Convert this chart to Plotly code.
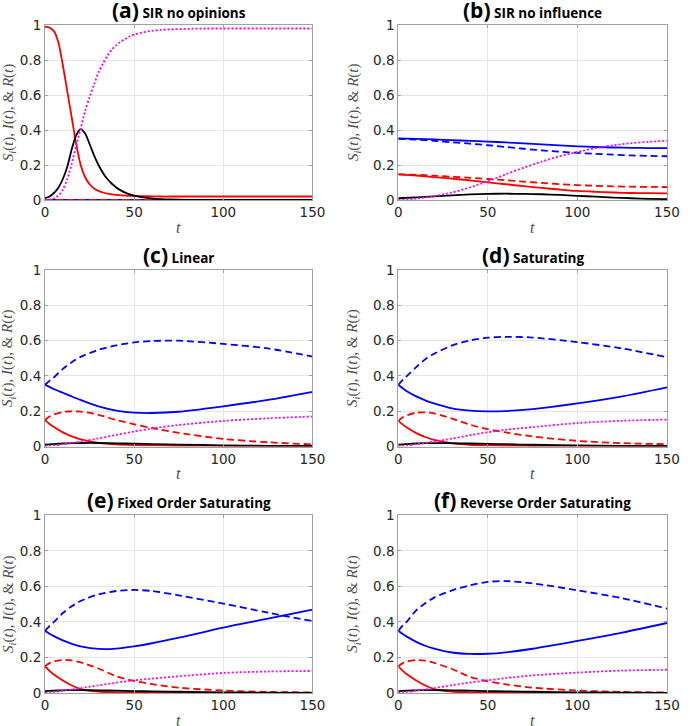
import plotly.graph_objects as go
from plotly.subplots import make_subplots

# ---- data ---------------------------------------------------------------
# (a) SIR no opinions
T_A = [0, 2.5, 5, 7.5, 10, 12.5, 15, 17.5, 20, 22.5, 25, 27.5, 30, 32.5, 35, 37.5,
       40, 42.5, 45, 47.5, 50, 55, 60, 65, 70, 80, 90, 100, 125, 150]
a_red = [0.99, 0.985, 0.965, 0.90, 0.77, 0.62, 0.47, 0.32, 0.20, 0.13, 0.09, 0.066,
         0.052, 0.043, 0.036, 0.032, 0.029, 0.027, 0.025, 0.024, 0.023, 0.022, 0.021,
         0.02, 0.02, 0.02, 0.02, 0.02, 0.02, 0.02]
a_black = [0.01, 0.02, 0.04, 0.07, 0.12, 0.19, 0.29, 0.37, 0.405, 0.38, 0.32, 0.255,
           0.20, 0.155, 0.12, 0.093, 0.072, 0.055, 0.042, 0.032, 0.025, 0.015, 0.009,
           0.005, 0.003, 0.001, 0, 0, 0, 0]
a_magenta = [0, 0.003, 0.01, 0.025, 0.06, 0.12, 0.21, 0.31, 0.41, 0.51, 0.59, 0.66,
             0.73, 0.78, 0.825, 0.86, 0.885, 0.905, 0.92, 0.935, 0.945, 0.958, 0.967,
             0.972, 0.975, 0.978, 0.98, 0.98, 0.98, 0.98]
T_FLAT = [0, 150]
a_blue = [0, 0]
a_blue_dash = [0, 0]
a_red_dash = [0, 0]

# (b) SIR no influence
T_B = [0, 10, 20, 30, 40, 50, 60, 70, 80, 90, 100, 110, 120, 130, 140, 150]
b_blue = [0.352, 0.349, 0.346, 0.342, 0.338, 0.334, 0.329, 0.324, 0.318, 0.312,
          0.307, 0.303, 0.300, 0.298, 0.297, 0.296]
b_blue_dash = [0.350, 0.345, 0.338, 0.330, 0.322, 0.313, 0.303, 0.293, 0.284, 0.276,
               0.269, 0.264, 0.259, 0.255, 0.252, 0.250]
b_red = [0.147, 0.140, 0.131, 0.122, 0.112, 0.101, 0.090, 0.079, 0.069, 0.060,
         0.052, 0.047, 0.043, 0.040, 0.039, 0.038]
b_red_dash = [0.147, 0.144, 0.139, 0.133, 0.127, 0.120, 0.113, 0.105, 0.098, 0.091,
              0.085, 0.081, 0.078, 0.076, 0.075, 0.074]
b_black = [0.010, 0.015, 0.021, 0.027, 0.032, 0.035, 0.036, 0.035, 0.033, 0.029,
           0.024, 0.019, 0.014, 0.010, 0.007, 0.005]
b_magenta = [0.000, 0.008, 0.022, 0.043, 0.072, 0.108, 0.147, 0.185, 0.219, 0.250,
             0.275, 0.296, 0.313, 0.325, 0.333, 0.339]

# (c)-(f) share one time grid
T_CF = [0, 2.5, 5, 10, 15, 20, 30, 40, 50, 60, 75, 100, 125, 150]

c_blue = [0.350, 0.338, 0.326, 0.305, 0.284, 0.264, 0.228, 0.204, 0.192, 0.190, 0.197, 0.228, 0.264, 0.310]
c_blue_dash = [0.350, 0.372, 0.392, 0.440, 0.478, 0.508, 0.548, 0.574, 0.590, 0.598, 0.600, 0.582, 0.556, 0.510]
c_red = [0.150, 0.128, 0.110, 0.080, 0.057, 0.040, 0.021, 0.012, 0.008, 0.006, 0.004, 0.003, 0.002, 0.002]
c_red_dash = [0.150, 0.170, 0.182, 0.196, 0.200, 0.198, 0.180, 0.150, 0.126, 0.105, 0.077, 0.043, 0.024, 0.012]
c_black = [0.010, 0.012, 0.014, 0.017, 0.019, 0.020, 0.020, 0.018, 0.016, 0.014, 0.011, 0.007, 0.004, 0.003]
c_magenta = [0.000, 0.003, 0.006, 0.013, 0.020, 0.028, 0.046, 0.066, 0.085, 0.102, 0.122, 0.145, 0.160, 0.170]

d_blue = [0.350, 0.330, 0.312, 0.284, 0.262, 0.244, 0.216, 0.203, 0.199, 0.201, 0.212, 0.244, 0.284, 0.335]
d_blue_dash = [0.350, 0.378, 0.402, 0.450, 0.494, 0.526, 0.573, 0.601, 0.617, 0.622, 0.618, 0.592, 0.556, 0.506]
d_red = [0.145, 0.124, 0.106, 0.076, 0.054, 0.037, 0.018, 0.010, 0.006, 0.004, 0.003, 0.002, 0.002, 0.002]
d_red_dash = [0.145, 0.166, 0.178, 0.192, 0.193, 0.188, 0.158, 0.124, 0.098, 0.080, 0.057, 0.032, 0.019, 0.013]
d_black = [0.010, 0.012, 0.014, 0.017, 0.019, 0.019, 0.019, 0.017, 0.015, 0.013, 0.010, 0.006, 0.004, 0.003]
d_magenta = [0.000, 0.003, 0.006, 0.013, 0.020, 0.028, 0.045, 0.064, 0.081, 0.095, 0.110, 0.133, 0.146, 0.153]

e_blue = [0.350, 0.334, 0.320, 0.296, 0.277, 0.263, 0.248, 0.250, 0.263, 0.280, 0.311, 0.368, 0.418, 0.469]
e_blue_dash = [0.350, 0.377, 0.400, 0.450, 0.488, 0.518, 0.555, 0.574, 0.580, 0.574, 0.550, 0.503, 0.452, 0.405]
e_red = [0.150, 0.125, 0.104, 0.070, 0.042, 0.022, 0.008, 0.004, 0.003, 0.002, 0.002, 0.001, 0.001, 0.001]
e_red_dash = [0.150, 0.168, 0.178, 0.186, 0.183, 0.172, 0.138, 0.094, 0.068, 0.050, 0.030, 0.014, 0.006, 0.003]
e_black = [0.010, 0.012, 0.013, 0.015, 0.016, 0.016, 0.015, 0.013, 0.011, 0.009, 0.007, 0.004, 0.002, 0.001]
e_magenta = [0.000, 0.003, 0.006, 0.013, 0.020, 0.028, 0.043, 0.058, 0.071, 0.081, 0.094, 0.113, 0.121, 0.124]

f_blue = [0.350, 0.332, 0.316, 0.288, 0.266, 0.250, 0.228, 0.220, 0.221, 0.229, 0.249, 0.293, 0.340, 0.394]
f_blue_dash = [0.350, 0.380, 0.405, 0.465, 0.505, 0.537, 0.578, 0.606, 0.625, 0.630, 0.617, 0.578, 0.533, 0.475]
f_red = [0.150, 0.125, 0.104, 0.070, 0.042, 0.022, 0.008, 0.004, 0.003, 0.002, 0.002, 0.001, 0.001, 0.001]
f_red_dash = [0.150, 0.168, 0.178, 0.185, 0.182, 0.170, 0.135, 0.091, 0.066, 0.049, 0.030, 0.014, 0.006, 0.003]
f_black = [0.010, 0.012, 0.013, 0.015, 0.016, 0.016, 0.015, 0.013, 0.011, 0.009, 0.007, 0.004, 0.002, 0.001]
f_magenta = [0.000, 0.003, 0.006, 0.013, 0.020, 0.028, 0.044, 0.059, 0.072, 0.084, 0.099, 0.115, 0.126, 0.131]

PANEL_LETTERS = ["(a)", "(b)", "(c)", "(d)", "(e)", "(f)"]
PANEL_NAMES = ["SIR no opinions", "SIR no influence", "Linear", "Saturating",
               "Fixed Order Saturating", "Reverse Order Saturating"]
X_TICKS = [0, 50, 100, 150]
Y_TICKS = [0, 0.2, 0.4, 0.6, 0.8, 1]
Y_TICK_TEXT = ["0", "0.2", "0.4", "0.6", "0.8", "1"]

panels = [
    [(T_FLAT, a_blue), (T_FLAT, a_blue_dash), (T_A, a_red), (T_FLAT, a_red_dash), (T_A, a_black), (T_A, a_magenta)],
    [(T_B, b_blue), (T_B, b_blue_dash), (T_B, b_red), (T_B, b_red_dash), (T_B, b_black), (T_B, b_magenta)],
    [(T_CF, c_blue), (T_CF, c_blue_dash), (T_CF, c_red), (T_CF, c_red_dash), (T_CF, c_black), (T_CF, c_magenta)],
    [(T_CF, d_blue), (T_CF, d_blue_dash), (T_CF, d_red), (T_CF, d_red_dash), (T_CF, d_black), (T_CF, d_magenta)],
    [(T_CF, e_blue), (T_CF, e_blue_dash), (T_CF, e_red), (T_CF, e_red_dash), (T_CF, e_black), (T_CF, e_magenta)],
    [(T_CF, f_blue), (T_CF, f_blue_dash), (T_CF, f_red), (T_CF, f_red_dash), (T_CF, f_black), (T_CF, f_magenta)],
]

# colour / dash for blue, blue--, red, red--, black, magenta:
STYLES = [("#0000ff", "solid"), ("#0000ff", "7px,4px"), ("#ff0000", "solid"),
          ("#ff0000", "7px,4px"), ("#000000", "solid"), ("#ff00ff", "2px,2px")]

# ---- figure -------------------------------------------------------------
fig = make_subplots(rows=3, cols=2)

X_DOM = [[0, 0.43], [0.568, 1.0]]
Y_DOM = [[0.738, 1.0], [0.369, 0.633], [0.0, 0.266]]

for i, series in enumerate(panels):
    r, c = i // 2 + 1, i % 2 + 1
    for (tt, yy), (col, dash) in zip(series, STYLES):
        fig.add_trace(go.Scatter(
            x=tt, y=yy, mode="lines", showlegend=False, hoverinfo="skip",
            line=dict(color=col, width=1.8, dash=dash, shape="spline", smoothing=0.8),
        ), row=r, col=c)

axis_common = dict(showline=True, linecolor="#a0a0a0", linewidth=1, mirror="ticks",
                   ticks="inside", ticklen=3, tickcolor="#a0a0a0",
                   showgrid=True, gridcolor="#e6e6e6", gridwidth=1, zeroline=False,
                   tickfont=dict(family="DejaVu Sans", size=13.5, color="#262626"))

fig.update_xaxes(range=[0, 150], tickvals=X_TICKS, **axis_common)
fig.update_yaxes(range=[0, 1], tickvals=Y_TICKS, ticktext=Y_TICK_TEXT, **axis_common)

for i in range(6):
    r, c = i // 2, i % 2
    sfx = "" if i == 0 else str(i + 1)
    fig.layout["xaxis" + sfx].domain = X_DOM[c]
    fig.layout["yaxis" + sfx].domain = Y_DOM[r]

    # panel title
    fig.add_annotation(
        text='<b><span style="font-size:21px">%s</span> %s</b>' % (PANEL_LETTERS[i], PANEL_NAMES[i]),
        xref="x%s domain" % sfx, yref="y%s domain" % sfx, x=0.5, y=1,
        xanchor="center", yanchor="bottom", yshift=-1, showarrow=False,
        font=dict(family="Open Sans", size=13.5, color="#000000"))
    # x label
    fig.add_annotation(
        text="<i>t</i>", xref="x%s domain" % sfx, yref="y%s domain" % sfx,
        x=0.5, y=0, yshift=-27, xanchor="center", yanchor="middle", showarrow=False,
        font=dict(family="Liberation Serif", size=16, color="#4d4d4d"))
    # y label
    fig.add_annotation(
        text="<i>S<sub>i</sub></i>(<i>t</i>), <i>I</i>(<i>t</i>), &amp; <i>R</i>(<i>t</i>)",
        xref="paper", yref="y%s domain" % sfx,
        x=(8 - 45) / 635 if c == 0 else (360 - 45) / 635, y=0.5,
        xanchor="center", yanchor="middle", textangle=-90, showarrow=False,
        font=dict(family="Liberation Serif", size=15, color="#4d4d4d"))

fig.update_layout(
    width=690, height=726,
    margin=dict(l=45, r=10, t=25, b=33),
    paper_bgcolor="white", plot_bgcolor="white",
)

# the page's default body margin would shift everything by 8px
fig.write_html("out.html", config={"displayModeBar": False},
               post_script="document.body.style.margin='0';")
